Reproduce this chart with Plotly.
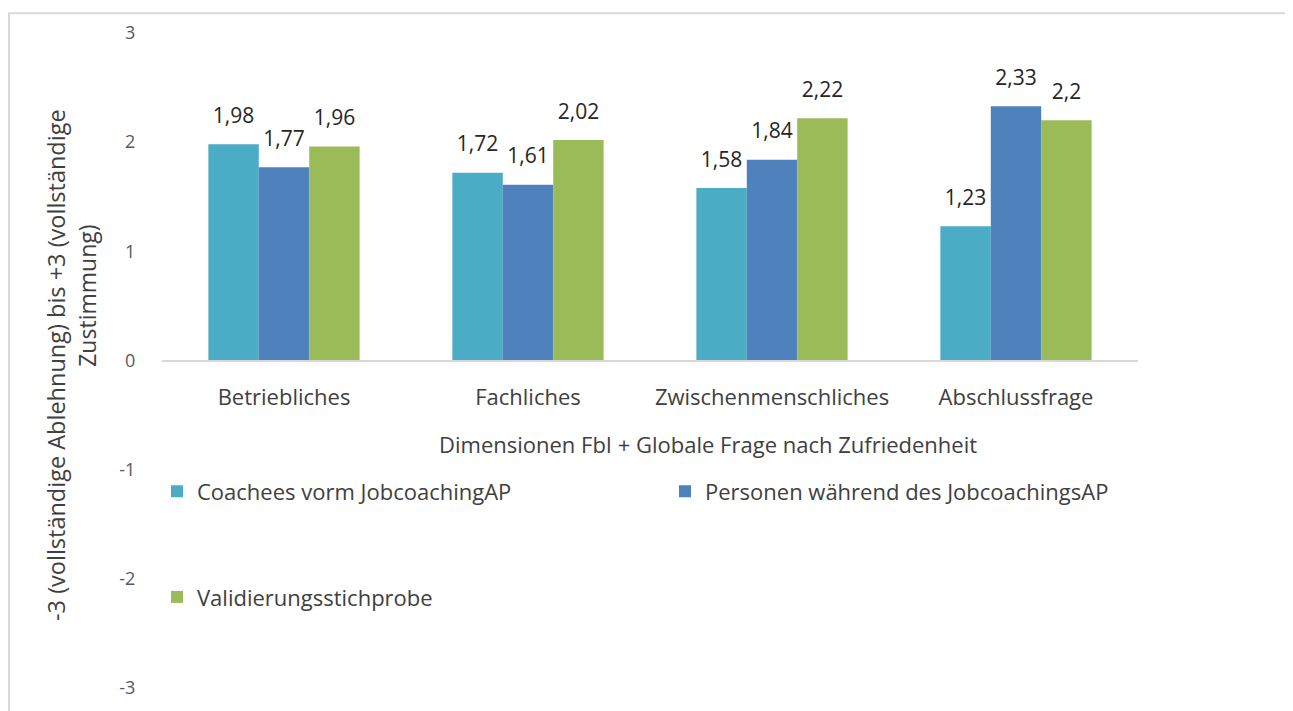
import plotly.graph_objects as go

categories = ["Betriebliches", "Fachliches", "Zwischenmenschliches", "Abschlussfrage"]
coachees_vorher = [1.98, 1.72, 1.58, 1.23]
personen_waehrend = [1.77, 1.61, 1.84, 2.33]
validierung = [1.96, 2.02, 2.22, 2.2]

series_names = [
    "Coachees vorm JobcoachingAP",
    "Personen während des JobcoachingsAP",
    "Validierungsstichprobe",
]
y_ticks = [3, 2, 1, 0, -1, -2, -3]
y_tick_labels = ["3", "2", "1", "0", "-1", "-2", "-3"]

colors = ["#4BACC6", "#4F81BD", "#9BBB59"]
FONT = "Open Sans"
GAP = 0.38

# page body margin shifts the figure by 8px, so work in screen pixels
OFF = 8
W, H = 1293 - OFF, 711 - OFF
L, R, T, B = 162, 1138, 29, 692  # plot area on screen


def px_x(px):
    return (px - L) / (R - L)


def px_y(py):
    return (B - py) / (B - T)


def label(v):
    return f"{v:g}".replace(".", ",")


fig = go.Figure()
legend_pos = [("legend", 157, 493), ("legend2", 665, 493), ("legend3", 157, 600)]
all_series = [coachees_vorher, personen_waehrend, validierung]
for name, vals, color, (leg, lx, ly) in zip(series_names, all_series, colors, legend_pos):
    fig.add_trace(
        go.Bar(
            x=categories,
            y=vals,
            name=name,
            marker={"color": color, "line": {"width": 0}},
            legend=leg,
            showlegend=True,
        )
    )

# value labels, grouped the same way as the bars, lifted a bit above the bar tops
for name, vals in zip(series_names, all_series):
    fig.add_trace(
        go.Scatter(
            x=categories,
            y=vals,
            mode="markers+text",
            marker={"size": 24, "opacity": 0},
            text=[label(v) for v in vals],
            textposition="top center",
            textfont={"size": 21, "color": "#262626", "family": FONT},
            cliponaxis=False,
            showlegend=False,
            hoverinfo="skip",
        )
    )

legend_style = dict(
    font={"size": 22, "color": "#404040", "family": FONT},
    bgcolor="rgba(0,0,0,0)",
    xanchor="left",
    yanchor="middle",
)
fig.update_layout(
    width=W,
    height=H,
    margin={"l": L - OFF, "r": 1293 - R, "t": T - OFF, "b": 711 - B},
    paper_bgcolor="white",
    plot_bgcolor="white",
    showlegend=True,
    barmode="group",
    bargap=GAP,
    bargroupgap=0,
    scattermode="group",
    scattergap=GAP,
    font={"family": FONT, "color": "#404040"},
    legend=dict(x=px_x(legend_pos[0][1]), y=px_y(legend_pos[0][2]), **legend_style),
    legend2=dict(x=px_x(legend_pos[1][1]), y=px_y(legend_pos[1][2]), **legend_style),
    legend3=dict(x=px_x(legend_pos[2][1]), y=px_y(legend_pos[2][2]), **legend_style),
)
fig.update_xaxes(
    anchor="free",
    position=0.5,
    showline=True,
    linecolor="#d9d9d9",
    linewidth=2,
    showgrid=False,
    ticks="outside",
    ticklen=17,
    tickcolor="rgba(0,0,0,0)",
    tickfont={"size": 22, "color": "#404040"},
)
fig.update_yaxes(
    range=[-3, 3],
    tickvals=y_ticks,
    ticktext=y_tick_labels,
    showgrid=False,
    zeroline=False,
    showline=False,
    ticks="outside",
    ticklen=22,
    tickcolor="rgba(0,0,0,0)",
    tickfont={"size": 18, "color": "#595959"},
)

# axis titles
fig.add_annotation(
    text="Dimensionen FbI + Globale Frage nach Zufriedenheit",
    xref="paper", yref="paper", x=px_x(708), y=px_y(445),
    xanchor="center", yanchor="middle",
    showarrow=False, font={"size": 22, "color": "#404040"},
)
fig.add_annotation(
    text="-3 (vollständige Ablehnung) bis +3 (vollständige",
    xref="paper", yref="paper", x=px_x(56), y=px_y(365),
    xanchor="center", yanchor="middle",
    textangle=-90, showarrow=False, font={"size": 23.5, "color": "#404040"},
)
fig.add_annotation(
    text="Zustimmung)",
    xref="paper", yref="paper", x=px_x(87), y=px_y(295),
    xanchor="center", yanchor="middle",
    textangle=-90, showarrow=False, font={"size": 23, "color": "#404040"},
)

# outer frame
fig.add_shape(
    type="rect", xref="paper", yref="paper",
    x0=px_x(OFF + 1), x1=px_x(1291), y0=px_y(730), y1=px_y(OFF + 1),
    line={"color": "#d9d9d9", "width": 2}, layer="below",
)

fig.write_html("out.html")
